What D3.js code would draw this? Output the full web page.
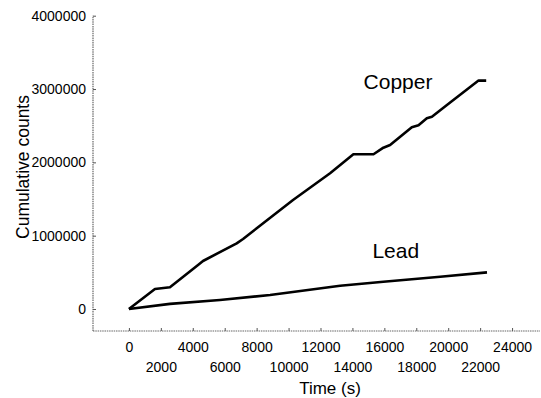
<!DOCTYPE html>
<html><head><meta charset="utf-8">
<script src="https://cdn.jsdelivr.net/npm/d3@7"></script>
<style>body{margin:0;background:#fff}svg{display:block}text{font-family:"Liberation Sans",Arial,sans-serif;fill:#000}</style>
</head><body><svg id="c" width="541" height="398"></svg>
<script>
const copperT = [0, 1630, 2570, 4330, 4640, 6750, 7150, 10280, 12600, 14060, 15320, 15940, 16360, 17720, 18140, 18660, 18980, 19920, 21900, 22380];
const copperV = [0, 273000, 296000, 600000, 655000, 896000, 955000, 1487000, 1851000, 2110000, 2110000, 2200000, 2237000, 2479000, 2506000, 2600000, 2623000, 2783000, 3115000, 3115000];
const leadT = [0, 2570, 5700, 8840, 13230, 15940, 19500, 22430];
const leadV = [0, 70000, 123000, 191000, 318000, 372000, 440000, 500000];
const yTicks = [0, 1000000, 2000000, 3000000, 4000000];
const xTicks = [0, 2000, 4000, 6000, 8000, 10000, 12000, 14000, 16000, 18000, 20000, 22000, 24000];
const seriesLabels = [{name:"Copper", t:14700, v:3000000}, {name:"Lead", t:15250, v:700000}];

const svg = d3.select("#c");
const x = d3.scaleLinear().domain([-2250, 25750]).range([93, 540]);
const y = d3.scaleLinear().domain([-300000, 4000000]).range([331, 15.7]);

// axes
const yAxis = d3.axisLeft(y).tickValues(yTicks).tickSize(-3).tickPadding(7).tickFormat(d3.format("d"));
const gy = svg.append("g").attr("transform", `translate(${x.range()[0]},0)`).call(yAxis);
gy.select(".domain").attr("d", `M0,${y.range()[0]}V${y.range()[1]}`);
const xAxis = d3.axisBottom(x).tickValues(xTicks).tickSize(-3).tickFormat(d3.format("d"));
const gx = svg.append("g").attr("transform", `translate(0,${y.range()[0]})`).call(xAxis);
gx.select(".domain").attr("d", `M${x.range()[0]},0H${x.range()[1]}`);
[gx, gy].forEach(g => {
  g.select(".domain").attr("stroke", "#666").attr("stroke-width", 1.2).attr("stroke-dasharray", "1.5,0.8");
  g.selectAll(".tick line").attr("stroke", "#555");
  g.selectAll(".tick text").attr("font-size", 14).attr("font-family", '"Liberation Sans",Arial,sans-serif').attr("fill", "#000");
});
gx.selectAll(".tick text").attr("dy", null).attr("y", (d) => (d / 2000) % 2 === 0 ? 21 : 41).attr("dominant-baseline", "auto");

// axis titles
svg.append("text").attr("x", 330).attr("y", 394).attr("text-anchor", "middle").attr("font-size", 17).text("Time (s)");
svg.append("text").attr("transform", "translate(29,167) rotate(-90)").attr("text-anchor", "middle").attr("font-size", 17.5).text("Cumulative counts");

// lines
const line = d3.line().x(d => x(d[0])).y(d => y(d[1]));
const copper = copperT.map((t, i) => [t, copperV[i]]);
const lead = leadT.map((t, i) => [t, leadV[i]]);
[copper, lead].forEach(data => {
  svg.append("path").datum(data).attr("d", line).attr("fill", "none").attr("stroke", "#000")
    .attr("stroke-width", 2.6).attr("stroke-linejoin", "round").attr("stroke-linecap", "butt");
});

// series labels
svg.selectAll(".lab").data(seriesLabels).enter().append("text")
  .attr("x", d => x(d.t)).attr("y", d => y(d.v)).attr("font-size", 21).text(d => d.name);
</script></body></html>
